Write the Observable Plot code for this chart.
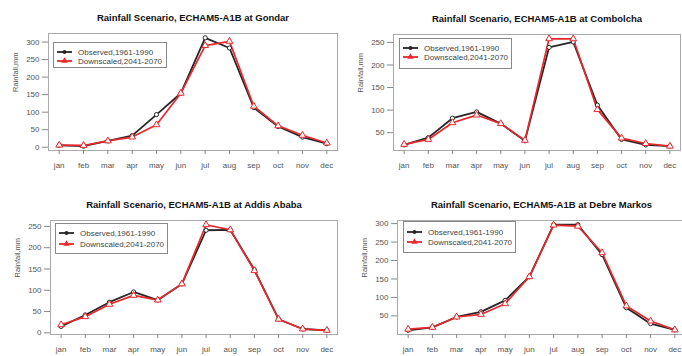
<!DOCTYPE html>
<html><head><meta charset="utf-8">
<script src="https://cdn.jsdelivr.net/npm/d3@7"></script>
<script src="https://cdn.jsdelivr.net/npm/@observablehq/plot@0.6"></script>
<style>
html,body{margin:0;padding:0;background:#fff;width:682px;height:356px;overflow:hidden;position:relative;font-family:"Liberation Sans",Arial,sans-serif}
.panel{position:absolute}
.panel svg{overflow:visible;max-width:none !important}
.legend{position:absolute;overflow:visible}
</style></head><body>
<script>
// ---- data ----
const months = ["jan","feb","mar","apr","may","jun","jul","aug","sep","oct","nov","dec"];
const seriesLabels = ["Observed,1961-1990", "Downscaled,2041-2070"];
const yLabel = "Rainfall,mm";
const titlePrefix = "Rainfall Scenario, ECHAM5-A1B at ";

const gondarObserved   = [5, 3, 18, 33, 93, 154, 312, 283, 113, 59, 29, 10];
const gondarDownscaled = [6, 5, 18, 29, 64, 154, 290, 302, 117, 61, 34, 12];
const gondarTicks = [0, 50, 100, 150, 200, 250, 300];

const combolchaObserved   = [23, 39, 82, 96, 70, 32, 239, 251, 111, 35, 23, 20];
const combolchaDownscaled = [24, 35, 72, 89, 70, 33, 258, 258, 101, 38, 26, 20];
const combolchaTicks = [50, 100, 150, 200, 250];

const addisObserved   = [15, 42, 72, 96, 77, 115, 241, 242, 148, 32, 9, 6];
const addisDownscaled = [19, 38, 67, 88, 77, 115, 254, 242, 146, 32, 9, 6];
const addisTicks = [0, 50, 100, 150, 200, 250];

const debreObserved   = [11, 19, 47, 61, 92, 156, 297, 297, 216, 72, 29, 12];
const debreDownscaled = [14, 19, 47, 54, 83, 156, 296, 293, 221, 77, 36, 12];
const debreTicks = [50, 100, 150, 200, 250, 300];

// ---- layout ----
const panels = [
  {station:"Gondar", obs:gondarObserved, down:gondarDownscaled, ticks:gondarTicks,
   left:0, top:0, width:341, height:178, mL:48, mR:4, mT:33, mB:28,
   lg:{dx:5, dy:9, w:113, h:25, r1:10, r2:19}},
  {station:"Combolcha", obs:combolchaObserved, down:combolchaDownscaled, ticks:combolchaTicks,
   left:341, top:0, width:341, height:178, mL:52, mR:2, mT:34, mB:28,
   lg:{dx:6, dy:4, w:112, h:30, r1:10, r2:19}},
  {station:"Addis Ababa", obs:addisObserved, down:addisDownscaled, ticks:addisTicks,
   left:0, top:178, width:341, height:178, mL:50, mR:4, mT:42, mB:22,
   lg:{dx:5, dy:3, w:112, h:30, r1:10, r2:21}},
  {station:"Debre Markos", obs:debreObserved, down:debreDownscaled, ticks:debreTicks,
   left:341, top:178, width:350, height:178, mL:56, mR:6, mT:42, mB:22,
   lg:{dx:6, dy:1, w:112, h:31, r1:11, r2:21}},
];

const BLACK = "#262626";
const RED = "#e8282c";
const FONT = "'Liberation Sans', Arial, sans-serif";

function pad(vals){
  const lo = d3.min(vals), hi = d3.max(vals), r = hi - lo;
  return [lo - 0.04*r, hi + 0.04*r];
}

for (const p of panels) {
  const obsRows = p.obs.map((v,i)=>({m:i+1, v}));
  const downRows = p.down.map((v,i)=>({m:i+1, v}));
  const chart = Plot.plot({
    width: p.width, height: p.height,
    marginLeft: p.mL, marginRight: p.mR, marginTop: p.mT, marginBottom: p.mB,
    x: {domain: [0.56, 12.44]},
    y: {domain: pad([...p.obs, ...p.down])},
    style: {fontFamily: FONT, fontSize: "8px", background: "transparent", color: "#444", maxWidth: "none"},
    marks: [
      Plot.frame({stroke: "#aaa"}),
      Plot.axisX(d3.range(1, 13), {tickFormat: i => months[i-1], tickSize: 4, tickPadding: 8, stroke: "#888", fill: "#555", label: null}),
      Plot.axisY(p.ticks, {tickSize: 6, tickPadding: 3, stroke: "#888", fill: "#555", label: null}),
      Plot.line(obsRows, {x: "m", y: "v", stroke: BLACK, strokeWidth: 1.8}),
      Plot.line(downRows, {x: "m", y: "v", stroke: RED, strokeWidth: 1.7}),
      Plot.dot(obsRows, {x: "m", y: "v", r: 2.1, stroke: BLACK, strokeWidth: 1, fill: "white"}),
      Plot.dot(downRows, {x: "m", y: "v", symbol: "triangle", r: 2.5, stroke: RED, strokeWidth: 1, fill: "white"}),
      Plot.text([titlePrefix + p.station], {frameAnchor: "top", dy: -19, fontWeight: "bold", fontSize: 9.5, fill: "#111"}),
      Plot.text([yLabel], {frameAnchor: "left", rotate: -90, dx: -33, fontSize: 7.5, fill: "#555"})
    ]
  });
  const div = document.createElement("div");
  div.className = "panel";
  div.style.left = p.left + "px"; div.style.top = p.top + "px";
  div.style.width = p.width + "px"; div.style.height = p.height + "px";
  div.appendChild(chart);
  document.body.appendChild(div);

  // legend
  const lg = p.lg;
  const svg = d3.create("svg")
    .attr("class", "legend")
    .attr("width", lg.w + 1).attr("height", lg.h + 1)
    .style("left", (p.left + p.mL + lg.dx) + "px")
    .style("top", (p.top + p.mT + lg.dy) + "px")
    .style("font-family", FONT);
  svg.append("rect").attr("x", 0.5).attr("y", 0.5).attr("width", lg.w).attr("height", lg.h)
    .attr("fill", "white").attr("stroke", "#888");
  const rowsY = [lg.r1, lg.r2], cols = [BLACK, RED];
  rowsY.forEach((ry, k) => {
    svg.append("line").attr("x1", 4).attr("x2", 19).attr("y1", ry).attr("y2", ry)
      .attr("stroke", cols[k]).attr("stroke-width", 1.8);
    if (k === 0) svg.append("circle").attr("cx", 11.5).attr("cy", ry).attr("r", 2).attr("fill", BLACK);
    else svg.append("path").attr("d", d3.symbol(d3.symbolTriangle, 18)()).attr("transform", `translate(11.5,${ry})`).attr("fill", RED);
    svg.append("text").attr("x", 25).attr("y", ry).attr("dy", "0.35em")
      .attr("font-size", 8).attr("fill", "#444").text(seriesLabels[k]);
  });
  document.body.appendChild(svg.node());
}
</script>
</body></html>
